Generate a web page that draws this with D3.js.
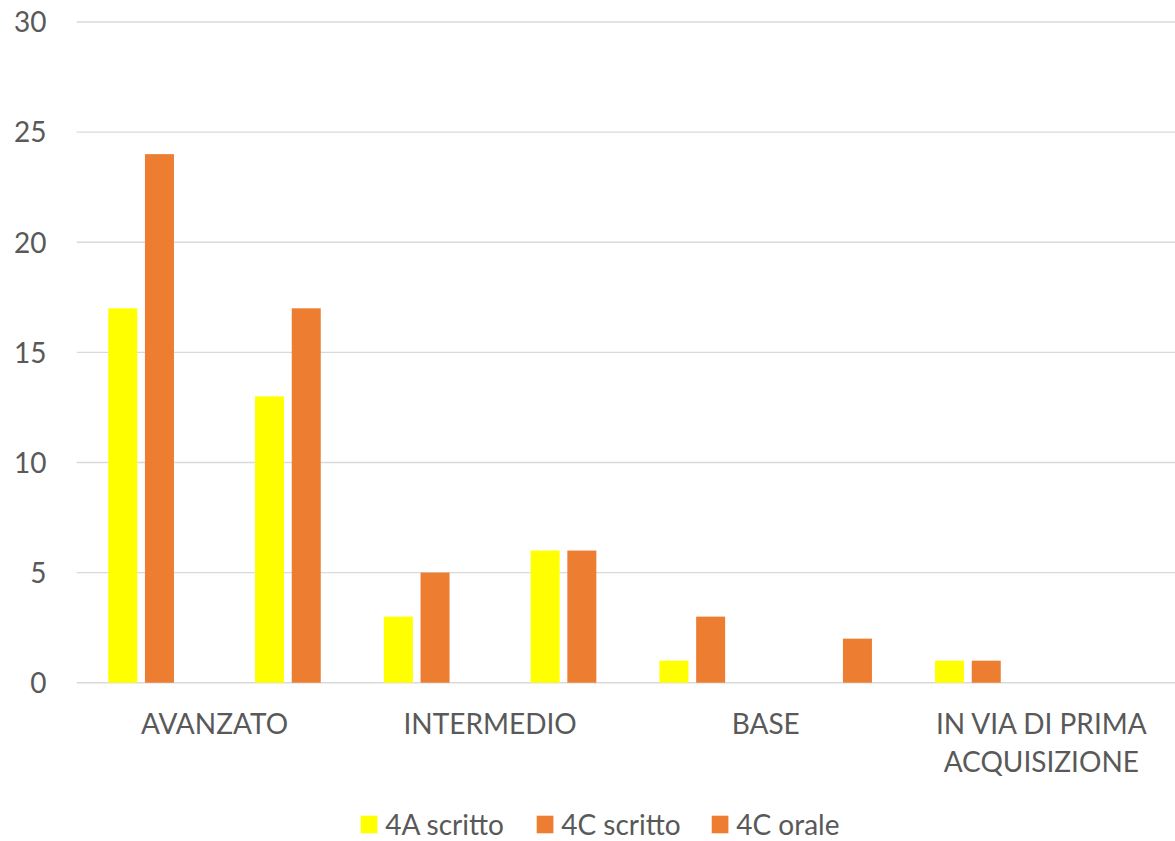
<!DOCTYPE html>
<html>
<head>
<meta charset="utf-8">
<script src="https://cdn.jsdelivr.net/npm/d3@7"></script>
<style>
  html, body { margin: 0; padding: 0; background: #ffffff; }
  svg { display: block; }
  text { font-family: "Lato", "Open Sans", sans-serif; fill: #595959; }
</style>
</head>
<body>
<svg id="chart" width="1175" height="841"></svg>
<script>
// ---- data ----
const categories = ["AVANZATO", "INTERMEDIO", "BASE", "IN VIA DI PRIMA ACQUISIZIONE"];
const values4AScritto = [17, 3, 1, 1];
const values4CScritto = [24, 5, 3, 1];
const valuesSlot3 = [0, 0, 0, 0];
const valuesSlot4 = [0, 0, 0, 0];
const valuesSlot5 = [13, 6, 0, 0];
const values4COrale = [17, 6, 2, 0];
const slotSeries = [values4AScritto, values4CScritto, valuesSlot3, valuesSlot4, valuesSlot5, values4COrale];
const slotColors = ["#FFFF00", "#ED7D31", "#A5A5A5", "#A5A5A5", "#FFFF00", "#ED7D31"];
const legendNames = ["4A scritto", "4C scritto", "4C orale"];
const legendColors = ["#FFFF00", "#ED7D31", "#ED7D31"];
const yTicks = [0, 5, 10, 15, 20, 25, 30];

// ---- layout ----
const svg = d3.select("#chart");
const plotLeft = 76.7, plotRight = 1179.1, plotTop = 22, plotBottom = 682.7;
const fontSize = 28;

const x0 = d3.scaleBand().domain(categories).range([plotLeft, plotRight]).padding(0);
const x1 = d3.scaleBand().domain(d3.range(slotSeries.length))
  .range([0, x0.bandwidth()]).paddingInner(0.21).paddingOuter(0.86);
const y = d3.scaleLinear().domain([0, 30]).range([plotBottom, plotTop]);

// gridlines
svg.append("g").selectAll("line").data(yTicks).join("line")
  .attr("x1", plotLeft).attr("x2", 1175)
  .attr("y1", d => y(d)).attr("y2", d => y(d))
  .attr("stroke", "#D9D9D9").attr("stroke-width", 1.4);

// y axis labels
const yAxis = d3.axisLeft(y).tickValues(yTicks).tickSize(0).tickPadding(0);
const yg = svg.append("g").attr("transform", `translate(46.5,0)`).call(yAxis);
yg.select(".domain").remove();
yg.selectAll("text").attr("font-size", fontSize).attr("font-family", "Lato").attr("fill", "#595959").attr("dy", "0.35em");

// bars
const rows = [];
categories.forEach((c, ci) => {
  slotSeries.forEach((s, si) => {
    if (s[ci] > 0) rows.push({ cat: c, slot: si, v: s[ci] });
  });
});
svg.append("g").selectAll("rect").data(rows).join("rect")
  .attr("x", d => x0(d.cat) + x1(d.slot))
  .attr("width", x1.bandwidth())
  .attr("y", d => y(d.v))
  .attr("height", d => y(0) - y(d.v))
  .attr("fill", d => slotColors[d.slot]);

// x labels
const xg = svg.append("g");
categories.forEach(c => {
  const cx = x0(c) + x0.bandwidth() / 2;
  const t = xg.append("text").attr("x", cx).attr("y", 734)
    .attr("text-anchor", "middle").attr("font-size", fontSize);
  // wrap by width
  const words = c.split(" ");
  const maxW = 235;
  let line = [];
  let lineNo = 0;
  let tspan = t.append("tspan").attr("x", cx).attr("dy", 0);
  words.forEach(w => {
    line.push(w);
    tspan.text(line.join(" "));
    if (tspan.node().getComputedTextLength() > maxW && line.length > 1) {
      line.pop();
      tspan.text(line.join(" "));
      line = [w];
      lineNo++;
      tspan = t.append("tspan").attr("x", cx).attr("dy", 37.7).text(w);
    }
  });
});

// legend
const legendX = [360.7, 536.7, 711.7];
const lg = svg.append("g");
legendNames.forEach((n, i) => {
  lg.append("rect").attr("x", legendX[i]).attr("y", 815.7).attr("width", 16.7).attr("height", 17.6)
    .attr("fill", legendColors[i]);
  lg.append("text").attr("x", legendX[i] + 24.5).attr("y", 834.5).attr("font-size", fontSize).text(n);
});
</script>
</body>
</html>
